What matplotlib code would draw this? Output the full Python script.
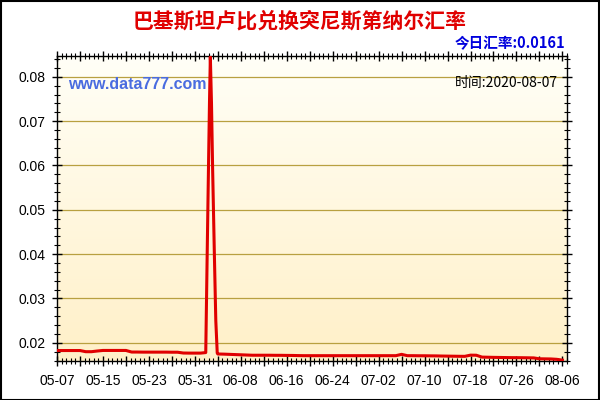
import matplotlib
matplotlib.use("Agg")
import matplotlib.pyplot as plt
import matplotlib.ticker as mticker
import numpy as np
from matplotlib.patches import Rectangle
from matplotlib.colors import LinearSegmentedColormap

plt.rcParams['font.family'] = ['Liberation Sans', 'Noto Sans CJK SC', 'DejaVu Sans']

title = "巴基斯坦卢比兑换突尼斯第纳尔汇率"
today_label = "今日汇率:0.0161"
site_label = "www.data777.com"
time_label = "时间:2020-08-07"

# x-axis tick labels (placed every 8 samples)
tick_labels = ["05-07", "05-15", "05-23", "05-31", "06-08", "06-16",
               "06-24", "07-02", "07-10", "07-18", "07-26", "08-06"]

# samples 0..25 (before the spike)
before_values = [
    0.01826, 0.01826, 0.01826, 0.01826, 0.01826,
    0.01800, 0.01800, 0.01815,
    0.01828, 0.01828, 0.01828, 0.01828, 0.01828,
    0.01792, 0.01792, 0.01790, 0.01790, 0.01790, 0.01790, 0.01790, 0.01788, 0.01788,
    0.01770, 0.01768, 0.01768, 0.01768,
]
# spike (fractional sample positions)
spike_x = [25.9, 26.15, 26.37, 26.55, 26.7, 26.9, 27.1, 27.4, 27.65, 27.9]
spike_values = [0.01780, 0.0400, 0.0590, 0.0742, 0.0845, 0.0740, 0.0590, 0.0400, 0.0250, 0.01770]
# samples 28..88 (after the spike)
after_values = [
    0.01748,
    0.01745, 0.01740, 0.01735, 0.01730, 0.01725,
    0.01720, 0.01720, 0.01720, 0.01720, 0.01718, 0.01718, 0.01716, 0.01715,
    0.01712, 0.01710, 0.01710, 0.01710, 0.01710, 0.01710, 0.01710, 0.01710, 0.01710,
    0.01710, 0.01710, 0.01710, 0.01710, 0.01710, 0.01710, 0.01710, 0.01710, 0.01710,
    0.01740,
    0.01710, 0.01710, 0.01708, 0.01708, 0.01706, 0.01705, 0.01702, 0.01700, 0.01698,
    0.01696, 0.01695,
    0.01722, 0.01720,
    0.01678, 0.01675, 0.01672, 0.01670, 0.01668, 0.01666,
    0.01665, 0.01664, 0.01662, 0.01660,
    0.01640, 0.01638, 0.01636, 0.01628,
    0.01610,
]

x = list(range(len(before_values))) + spike_x + \
    list(range(28, 28 + len(after_values)))
y = before_values + spike_values + after_values

fig = plt.figure(figsize=(6, 4), dpi=100)
fig.patch.set_facecolor('white')
fig.add_artist(Rectangle((0.001, 0.001), 0.997, 0.996, transform=fig.transFigure,
                         fill=False, edgecolor='black', linewidth=1.5))

ax = fig.add_axes([0.095, 0.0975, 0.85, 0.7625])

# gradient background: near-white at top, light yellow at bottom
grad = np.linspace(0, 1, 256).reshape(-1, 1)
cmap = LinearSegmentedColormap.from_list('bg', ['#FFFFF7', '#FFF0C8'])
ax.imshow(grad, aspect='auto', cmap=cmap, extent=[0, 1, 0, 1],
          transform=ax.transAxes, zorder=0)

ax.plot(x, y, color='#E00000', linewidth=2.2, zorder=3)

ax.set_xlim(0, 88.8)
ax.set_ylim(0.0159, 0.0847)

ax.yaxis.set_major_locator(mticker.MultipleLocator(0.01))
ax.yaxis.set_minor_locator(mticker.MultipleLocator(0.002))
ax.yaxis.set_major_formatter(mticker.FormatStrFormatter('%.2f'))

ax.xaxis.set_major_locator(mticker.MultipleLocator(4))
ax.xaxis.set_minor_locator(mticker.MultipleLocator(0.8))


def xfmt(v, pos):
    i = int(round(v))
    if i % 8 == 0 and 0 <= i // 8 < len(tick_labels):
        return tick_labels[i // 8]
    return ""


ax.xaxis.set_major_formatter(mticker.FuncFormatter(xfmt))

ax.grid(True, which='major', axis='y', color='#B8A040', linewidth=0.9, zorder=1)
ax.tick_params(axis='both', which='major', direction='inout', length=7, width=1,
               labelsize=10, top=True, right=True, colors='black')
ax.tick_params(axis='both', which='minor', direction='inout', length=4, width=0.8,
               top=True, right=True)
ax.tick_params(axis='x', pad=6)
ax.tick_params(axis='y', pad=5)
for s in ax.spines.values():
    s.set_color('black')
    s.set_linewidth(1)

fig.text(0.5, 0.948, title, ha='center', va='center', color='#E00000',
         fontsize=15, fontweight='bold', family=['Noto Sans CJK SC', 'DejaVu Sans'])
fig.text(0.942, 0.893, today_label, ha='right', va='center', color='#0000DD',
         fontsize=10.5, fontweight='bold', family=['Noto Sans CJK SC', 'DejaVu Sans'])
ax.text(0.022, 0.905, site_label, transform=ax.transAxes, ha='left', va='center',
        color='#4A6CE0', fontsize=11.5, fontweight='bold', family=['Liberation Sans', 'DejaVu Sans'])
ax.text(0.983, 0.91, time_label, transform=ax.transAxes, ha='right', va='center',
        color='black', fontsize=10, family=['Noto Sans CJK SC', 'DejaVu Sans'])

fig.savefig('out.png', dpi=100)
